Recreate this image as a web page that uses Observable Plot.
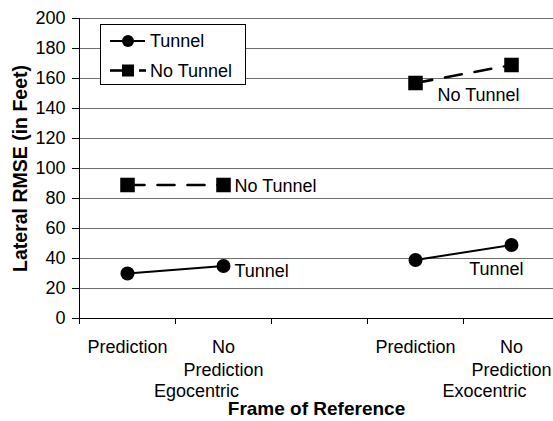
<!DOCTYPE html>
<html>
<head>
<meta charset="utf-8">
<script src="https://cdn.jsdelivr.net/npm/d3@7"></script>
<script src="https://cdn.jsdelivr.net/npm/@observablehq/plot@0.6"></script>
<style>
  html, body { margin: 0; padding: 0; background: #fff; }
  #wrap { position: relative; width: 553px; height: 421px; font-family: "Liberation Sans", Arial, sans-serif; }
  #legend { position: absolute; left: 100px; top: 24px; }
</style>
</head>
<body>
<div id="wrap"></div>
<script>
// ---- data ----
const slotLabels = ["Prediction", "No\nPrediction", "Prediction", "No\nPrediction"];
const slotIndex = [0, 1, 3, 4];            // category slot of each point (slot 2 is the gap)
const slotFrame = [0, 0, 1, 1];
const frames = ["Egocentric", "Exocentric"];
const seriesNames = ["Tunnel", "No Tunnel"];
const tunnel = [30, 35, 39, 49];
const noTunnel = [89, 89, 157, 169];
const yTicks = [0, 20, 40, 60, 80, 100, 120, 140, 160, 180, 200];
const xBounds = [0, 1, 2, 3, 4, 5];
const xTitle = "Frame of Reference";
const yTitle = "Lateral RMSE (in Feet)";

// ---- derived tables ----
const rows = [];
[tunnel, noTunnel].forEach((vals, s) => {
  vals.forEach((v, i) => rows.push({series: seriesNames[s], frame: frames[slotFrame[i]], slot: slotIndex[i], value: v, i}));
});
const slotRows = slotLabels.map((label, i) => ({label, slot: slotIndex[i]}));
const frameRows = frames.map((f, k) => {
  const s = slotIndex.filter((_, i) => slotFrame[i] === k);
  return {frame: f, center: d3.mean(s) + 0.5};
});
const cx = d => d.slot + 0.5;
const tRows = rows.filter(d => d.series === "Tunnel");
const nRows = rows.filter(d => d.series === "No Tunnel");

const chart = Plot.plot({
  width: 553,
  height: 421,
  marginLeft: 79,
  marginRight: 0,
  marginTop: 18,
  marginBottom: 103,
  style: {fontFamily: "'Liberation Sans', Arial, sans-serif", fontSize: "18px", color: "black", background: "white"},
  x: {type: "linear", domain: [0, 5], range: [79, 559]},
  y: {domain: [0, 200]},
  marks: [
    Plot.ruleY(yTicks.filter(d => d > 0), {stroke: "#6e6e6e", strokeWidth: 1}),
    Plot.ruleY([0], {stroke: "black", strokeWidth: 1}),
    Plot.ruleX([0], {stroke: "black", strokeWidth: 1}),
    Plot.axisY({ticks: yTicks, tickSize: 7, tickPadding: 7, label: null, fontSize: 18, tickFormat: d => d}),
    Plot.axisX({ticks: xBounds, tickSize: 6, tickFormat: () => "", label: null}),
    // lines
    Plot.line(tRows, {x: cx, y: "value", z: "frame", stroke: "black", strokeWidth: 2}),
    Plot.line(nRows, {x: cx, y: "value", z: "frame", stroke: "black", strokeWidth: 2.6, strokeDasharray: "17,13"}),
    Plot.dot(tRows, {x: cx, y: "value", r: 7, fill: "black", symbol: "circle"}),
    Plot.dot(nRows, {x: cx, y: "value", r: 8.2, fill: "black", symbol: "square"}),
    // series labels
    Plot.text(nRows.filter(d => d.i === 1), {x: cx, y: "value", text: "series", textAnchor: "start", lineAnchor: "middle", dx: 11, dy: 1, fontSize: 18}),
    Plot.text(tRows.filter(d => d.i === 1), {x: cx, y: "value", text: "series", textAnchor: "start", lineAnchor: "middle", dx: 11, dy: 5, fontSize: 18}),
    Plot.text(nRows.filter(d => d.i === 2), {x: cx, y: "value", text: "series", textAnchor: "start", lineAnchor: "middle", dx: 22, dy: 12, fontSize: 18}),
    Plot.text(tRows.filter(d => d.i === 3), {x: cx, y: "value", text: "series", textAnchor: "end", lineAnchor: "middle", dx: 12, dy: 24, fontSize: 18}),
    // category labels
    Plot.text(slotRows, {x: cx, text: "label", frameAnchor: "bottom", lineAnchor: "top", dy: 19, lineHeight: 1.25, fontSize: 18}),
    Plot.text(frameRows, {x: "center", text: "frame", frameAnchor: "bottom", lineAnchor: "bottom", dy: 78, dx: 21, fontSize: 18}),
    // titles
    Plot.text([xTitle], {text: d => d, frameAnchor: "bottom", lineAnchor: "bottom", dy: 96, fontSize: 19, fontWeight: "bold"}),
    Plot.text([yTitle], {text: d => d, frameAnchor: "left", textAnchor: "middle", rotate: -90, lineAnchor: "bottom", dx: -53, fontSize: 19.5, fontWeight: "bold"})
  ]
});
document.getElementById("wrap").appendChild(chart);

// ---- legend (inside plot area, like the original) ----
const legend = d3.select("#wrap").append("svg")
  .attr("id", "legend").attr("width", 146).attr("height", 61)
  .style("font-family", "'Liberation Sans', Arial, sans-serif");
legend.append("rect").attr("x", 0.5).attr("y", 0.5).attr("width", 145).attr("height", 60)
  .attr("fill", "white").attr("stroke", "black");
seriesNames.forEach((name, k) => {
  const y = 17 + k * 29.5;
  const g = legend.append("g");
  if (k === 0) {
    g.append("line").attr("x1", 10).attr("x2", 45).attr("y1", y).attr("y2", y).attr("stroke", "black").attr("stroke-width", 2);
    g.append("circle").attr("cx", 28).attr("cy", y).attr("r", 6).attr("fill", "black");
  } else {
    g.append("line").attr("x1", 10).attr("x2", 23).attr("y1", y).attr("y2", y).attr("stroke", "black").attr("stroke-width", 2.6);
    g.append("line").attr("x1", 39).attr("x2", 46).attr("y1", y).attr("y2", y).attr("stroke", "black").attr("stroke-width", 2.6);
    g.append("rect").attr("x", 22).attr("y", y - 6).attr("width", 12).attr("height", 12).attr("fill", "black");
  }
  g.append("text").attr("x", 50).attr("y", y + 6).attr("font-size", 18).text(name);
});
</script>
</body>
</html>
